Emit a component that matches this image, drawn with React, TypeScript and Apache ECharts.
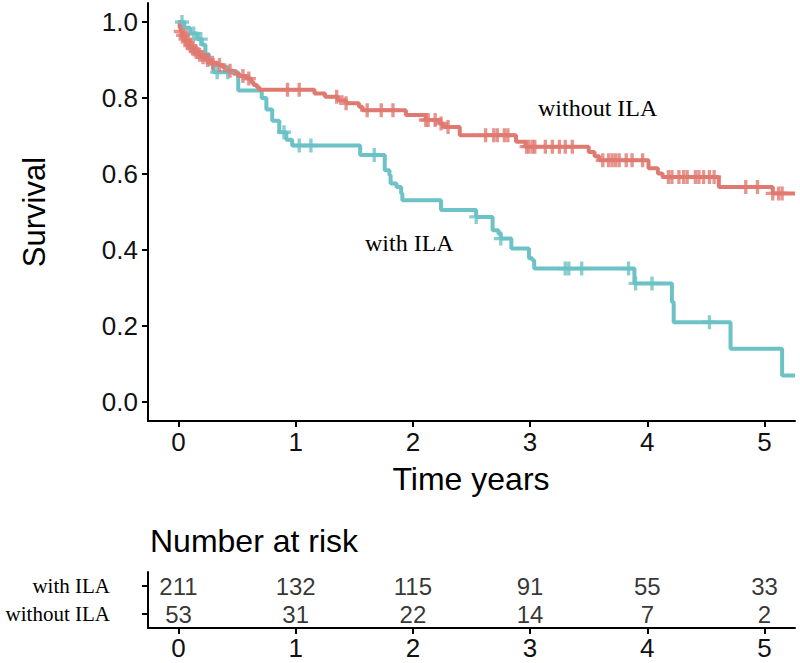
import React, { useEffect, useRef } from "react";
import * as echarts from "echarts";

// ---- data ----
const xTicks = [0, 1, 2, 3, 4, 5];
const yTicks = [0, 0.2, 0.4, 0.6, 0.8, 1.0];

// Kaplan-Meier steps [time, survival after the step]
const tealSteps: number[][] = [
  [0, 1.0], [0.05, 0.985], [0.1, 0.97], [0.16, 0.955], [0.2, 0.94], [0.23, 0.915],
  [0.26, 0.89], [0.3, 0.868], [0.51, 0.82], [0.71, 0.8], [0.75, 0.77], [0.8, 0.74],
  [0.86, 0.71], [0.92, 0.69], [0.97, 0.675], [1.55, 0.65], [1.76, 0.61], [1.8, 0.597],
  [1.81, 0.575], [1.86, 0.566], [1.9, 0.549], [1.91, 0.531], [2.24, 0.505], [2.54, 0.487],
  [2.68, 0.452], [2.73, 0.443], [2.75, 0.43], [2.84, 0.404], [2.99, 0.378], [3.02, 0.373],
  [3.035, 0.351], [3.89, 0.312], [4.21, 0.263], [4.225, 0.21], [4.71, 0.14], [5.15, 0.07],
  [5.26, 0.07],
];
const redSteps: number[][] = [
  [0, 1.0], [0.01, 0.985], [0.02, 0.975], [0.03, 0.965], [0.05, 0.955], [0.07, 0.947],
  [0.09, 0.938], [0.11, 0.93], [0.14, 0.922], [0.17, 0.914], [0.2, 0.907], [0.24, 0.9],
  [0.28, 0.893], [0.33, 0.887], [0.38, 0.88], [0.42, 0.872], [0.47, 0.864], [0.52, 0.858],
  [0.58, 0.851], [0.62, 0.842], [0.64, 0.834], [0.67, 0.828], [0.69, 0.822], [1.16, 0.812],
  [1.25, 0.803], [1.36, 0.794], [1.43, 0.786], [1.54, 0.777], [1.57, 0.768], [1.94, 0.755],
  [2.11, 0.742], [2.23, 0.733], [2.26, 0.724], [2.4, 0.702], [2.88, 0.685], [2.96, 0.672],
  [3.5, 0.658], [3.55, 0.647], [3.59, 0.636], [4.01, 0.615], [4.09, 0.601], [4.13, 0.592],
  [4.61, 0.566], [5.07, 0.549], [5.26, 0.549],
];

// censoring times
const tealCensorTimes = [0.03, 0.13, 0.19, 0.33, 0.42, 0.9, 1.03, 1.13, 1.67, 2.54, 2.75, 3.3, 3.33, 3.44, 3.84, 3.9, 4.04, 4.53];
const redCensorTimes = [
  0.02, 0.04, 0.06, 0.08, 0.1, 0.12, 0.15, 0.18, 0.21, 0.25, 0.29, 0.35, 0.44, 0.55, 0.6,
  0.93, 1.03, 1.35, 1.43, 1.61, 1.73, 1.83, 2.11, 2.13, 2.19, 2.24, 2.3, 2.62, 2.69, 2.72,
  2.78, 2.81, 2.97, 2.99, 3.02, 3.04, 3.13, 3.19, 3.25, 3.3, 3.36, 3.62, 3.67, 3.7, 3.73,
  3.76, 3.82, 3.87, 3.96, 4.18, 4.21, 4.27, 4.31, 4.34, 4.41, 4.44, 4.48, 4.53, 4.57, 4.84,
  4.94, 5.07, 5.12, 5.15,
];

// number at risk
const riskTimes = [0, 1, 2, 3, 4, 5];
const riskRowLabels = ["with ILA", "without ILA"];
const riskRow1 = [211, 132, 115, 91, 55, 33];
const riskRow2 = [53, 31, 22, 14, 7, 2];

const curveLabels = ["without ILA", "with ILA"];

// ---- styles ----
const RED = "#E07970";
const TEAL = "#6CC2C6";
const SANS = "'Liberation Sans', Arial, Helvetica, sans-serif";
const SERIF = "'Liberation Serif', 'Times New Roman', serif";
const PLUS = "path://M3.8,0h2.4v3.8h3.8v2.4h-3.8v3.8h-2.4v-3.8h-3.8v-2.4h3.8z";

function survAt(steps: number[][], t: number): number {
  let s = steps[0][1];
  for (const [ti, si] of steps) {
    if (ti <= t) s = si;
    else break;
  }
  return s;
}

export default function App() {
  const ref = useRef<HTMLDivElement>(null);

  useEffect(() => {
    if (!ref.current) return;
    const chart = echarts.init(ref.current, undefined, { renderer: "svg" });

    const axisLine = { show: true, onZero: false, lineStyle: { color: "#000", width: 2 } };
    const axisTick = { show: true, length: 6, lineStyle: { color: "#000", width: 2 } };
    const riskLabel = {
      show: true, position: "inside", formatter: (p: any) => String(p.value[2]),
      fontSize: 24, lineHeight: 24, fontFamily: SANS, color: "#000",
    };

    chart.setOption({
      animation: false,
      backgroundColor: "#fff",
      grid: [
        { left: 148, right: 5, top: 3, bottom: 242 },
        { left: 148, right: 5, top: 572, height: 56 },
      ],
      xAxis: [
        {
          type: "value", gridIndex: 0, min: -0.26, max: 5.26,
          splitLine: { show: false },
          axisLine, axisTick: { ...axisTick, customValues: xTicks },
          axisLabel: { customValues: xTicks, fontSize: 26, fontFamily: SANS, color: "#111", margin: 8 },
        },
        {
          type: "value", gridIndex: 1, min: -0.26, max: 5.26,
          splitLine: { show: false },
          axisLine, axisTick: { ...axisTick, customValues: riskTimes },
          axisLabel: { customValues: riskTimes, fontSize: 26, fontFamily: SANS, color: "#111", margin: 7 },
        },
      ],
      yAxis: [
        {
          type: "value", gridIndex: 0, min: -0.05, max: 1.05,
          splitLine: { show: false },
          axisLine, axisTick: { ...axisTick, customValues: yTicks },
          axisLabel: {
            customValues: yTicks, fontSize: 26, fontFamily: SANS, color: "#111", margin: 10,
            formatter: (v: number) => v.toFixed(1),
          },
        },
        {
          type: "value", gridIndex: 1, min: 0.5, max: 2.5,
          splitLine: { show: false },
          axisLine, axisTick: { ...axisTick, customValues: [1, 2] },
          axisLabel: {
            customValues: [1, 2], fontSize: 21, lineHeight: 22, fontFamily: SERIF, color: "#000", margin: 38,
            formatter: (v: number) => (v === 2 ? riskRowLabels[0] : riskRowLabels[1]),
          },
        },
      ],
      series: [
        {
          type: "line", xAxisIndex: 0, yAxisIndex: 0, step: "end", showSymbol: false,
          data: tealSteps, lineStyle: { color: TEAL, width: 4 }, z: 2,
        },
        {
          type: "line", xAxisIndex: 0, yAxisIndex: 0, step: "end", showSymbol: false,
          data: redSteps, lineStyle: { color: RED, width: 4 }, z: 3,
        },
        {
          type: "scatter", xAxisIndex: 0, yAxisIndex: 0, symbol: PLUS, symbolSize: 14,
          data: tealCensorTimes.map((t) => [t, survAt(tealSteps, t)]),
          itemStyle: { color: TEAL }, z: 4,
        },
        {
          type: "scatter", xAxisIndex: 0, yAxisIndex: 0, symbol: PLUS, symbolSize: 14,
          data: redCensorTimes.map((t) => [t, survAt(redSteps, t)]),
          itemStyle: { color: RED }, z: 5,
        },
        {
          type: "scatter", xAxisIndex: 1, yAxisIndex: 1, symbolSize: 0,
          data: riskTimes.map((t, i) => [t, 2, riskRow1[i]]),
          label: riskLabel,
        },
        {
          type: "scatter", xAxisIndex: 1, yAxisIndex: 1, symbolSize: 0,
          data: riskTimes.map((t, i) => [t, 1, riskRow2[i]]),
          label: riskLabel,
        },
      ],
      graphic: [
        {
          type: "text", x: 34, y: 212, rotation: Math.PI / 2,
          style: { text: "Survival", fontSize: 31, fontFamily: SANS, fill: "#000", align: "center", verticalAlign: "middle" },
        },
        {
          type: "text", x: 471, y: 479,
          style: { text: "Time years", fontSize: 32, fontFamily: SANS, fill: "#000", align: "center", verticalAlign: "middle" },
        },
        {
          type: "text", x: 150, y: 541,
          style: { text: "Number at risk", fontSize: 32, fontFamily: SANS, fill: "#000", align: "left", verticalAlign: "middle" },
        },
        {
          type: "text", x: 538, y: 108,
          style: { text: curveLabels[0], fontSize: 24, fontFamily: SERIF, fill: "#000", align: "left", verticalAlign: "middle" },
        },
        {
          type: "text", x: 365, y: 243,
          style: { text: curveLabels[1], fontSize: 24, fontFamily: SERIF, fill: "#000", align: "left", verticalAlign: "middle" },
        },
      ],
    });

    return () => chart.dispose();
  }, []);

  return (
    <div
      ref={ref}
      style={{ position: "fixed", left: 0, top: 0, width: 800, height: 663, background: "#fff" }}
    />
  );
}
